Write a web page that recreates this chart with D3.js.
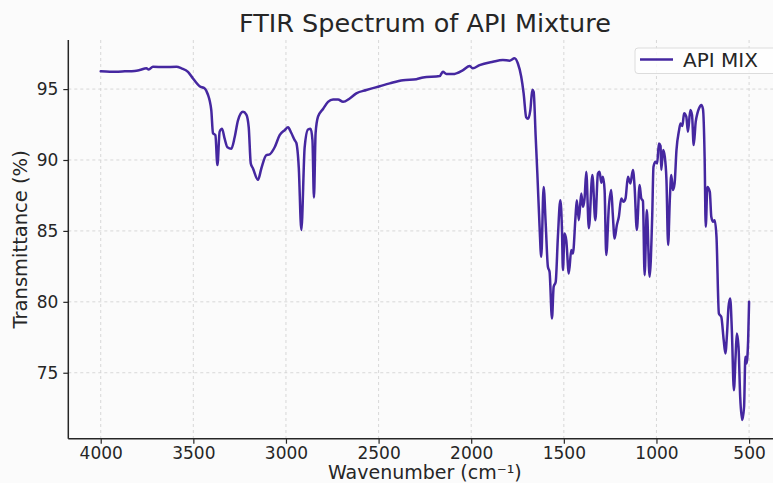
<!DOCTYPE html>
<html>
<head>
<meta charset="utf-8">
<script src="https://cdn.jsdelivr.net/npm/d3@7"></script>
<style>
  html, body { margin: 0; padding: 0; background: #fbfbfb; }
  svg { display: block; }
  text { font-family: "DejaVu Sans", sans-serif; fill: #262626; }
</style>
</head>
<body>
<svg id="chart" width="773" height="483"></svg>
<script>
// FTIR spectrum of the API mixture: wavenumber (cm-1) vs transmittance (%)
const wavenumber = [
  4000, 3951, 3870, 3817, 3790, 3753, 3741, 3718, 3655, 3591,
  3564, 3529, 3502, 3466, 3439, 3421, 3412, 3403, 3394, 3381,
  3370, 3358, 3345, 3331, 3316, 3295, 3277, 3259, 3232, 3214,
  3201, 3190, 3178, 3151, 3133, 3106, 3088, 3061, 3034, 3007,
  2989, 2971, 2953, 2944, 2931, 2917, 2899, 2881, 2867, 2857,
  2849, 2840, 2827, 2800, 2773, 2746, 2719, 2692, 2656, 2620,
  2566, 2494, 2440, 2368, 2296, 2260, 2170, 2153, 2134, 2099,
  2044, 2008, 1991, 1955, 1883, 1829, 1793, 1766, 1748, 1730,
  1717, 1703, 1694, 1681, 1670, 1663, 1652, 1643, 1631, 1622,
  1609, 1598, 1586, 1577, 1564, 1555, 1544, 1532, 1519, 1510,
  1505, 1496, 1487, 1473, 1460, 1451, 1437, 1430, 1419, 1406,
  1397, 1388, 1379, 1365, 1346, 1330, 1316, 1307, 1298, 1289,
  1280, 1271, 1257, 1244, 1236, 1226, 1214, 1203, 1190, 1178,
  1167, 1154, 1141, 1127, 1118, 1106, 1091, 1082, 1073, 1064,
  1052, 1037, 1023, 1016, 1005, 996, 987, 978, 974, 964,
  955, 946, 937, 928, 920, 911, 902, 892, 878, 870,
  860, 851, 839, 830, 817, 808, 799, 788, 779, 770,
  758, 749, 740, 734, 725, 712, 704, 694, 686, 676,
  663, 650, 637, 628, 619, 611, 602, 593, 582, 573,
  566, 557, 548, 537, 527, 520, 514, 505, 500
];
const transmittance = [
  96.25, 96.22, 96.25, 96.28, 96.34, 96.46, 96.38, 96.57, 96.55, 96.57,
  96.46, 96.22, 95.75, 95.20, 95.05, 94.60, 94.20, 93.50, 91.90, 91.75,
  89.64, 92.00, 92.20, 91.50, 90.90, 90.80, 91.60, 92.80, 93.40, 93.20,
  92.30, 89.76, 89.40, 88.60, 89.40, 90.35, 90.40, 90.90, 91.75, 92.10,
  92.30, 91.90, 91.40, 91.20, 89.50, 85.06, 90.90, 92.15, 92.20, 91.40,
  87.35, 91.90, 93.05, 93.60, 94.10, 94.27, 94.27, 94.10, 94.34, 94.70,
  94.93, 95.20, 95.40, 95.63, 95.70, 95.82, 95.92, 96.22, 96.06, 96.06,
  96.34, 96.62, 96.46, 96.69, 96.93, 97.05, 97.00, 97.17, 96.80, 95.87,
  94.70, 93.00, 92.90, 93.50, 94.95, 94.80, 91.64, 89.05, 85.30, 83.17,
  88.10, 85.53, 82.47, 82.10, 78.83, 81.06, 81.40, 84.60, 87.17, 85.06,
  82.24, 84.82, 84.35, 82.00, 83.65, 83.40, 86.00, 87.17, 85.76, 87.64,
  86.70, 87.30, 89.17, 85.18, 88.94, 85.76, 89.05, 89.17, 88.40, 88.82,
  87.88, 83.30, 86.70, 87.88, 86.23, 84.47, 85.40, 86.00, 87.29, 87.05,
  87.29, 88.82, 88.35, 89.29, 88.11, 85.06, 88.23, 87.29, 87.10, 81.88,
  86.47, 81.76, 86.00, 89.52, 89.87, 89.76, 91.17, 91.00, 89.30, 90.70,
  90.23, 88.58, 84.00, 87.17, 88.94, 87.88, 88.35, 90.70, 92.10, 92.58,
  92.40, 93.29, 93.05, 91.99, 93.52, 93.17, 91.05, 92.70, 93.29, 93.64,
  93.87, 93.60, 90.20, 85.29, 88.10, 87.76, 86.00, 85.64, 85.76, 84.60,
  79.18, 78.94, 77.30, 76.36, 77.77, 79.65, 80.24, 78.00, 73.77, 76.12,
  77.77, 76.83, 73.30, 71.66, 72.60, 76.12, 75.65, 77.30, 80.00
];
const xTicks = [4000, 3500, 3000, 2500, 2000, 1500, 1000, 500];
const yTicks = [75, 80, 85, 90, 95];
const seriesName = "API MIX";
const titleText = "FTIR Spectrum of API Mixture";
const xLabel = "Wavenumber (cm\u207B\u00B9)";
const yLabel = "Transmittance (%)";

const W = 773, H = 483;
const plot = { left: 68.3, right: 781.5, top: 40, bottom: 438.7 };
const lineColor = "#4527a0";

const svg = d3.select("#chart");
svg.append("rect").attr("width", W).attr("height", H).attr("fill", "#fbfbfb");

// wavenumber axis runs high to low, with 5% padding each side
const x = d3.scaleLinear().domain([4175, 325]).range([plot.left, plot.right]);
const y = d3.scaleLinear().domain([70.35, 98.46]).range([plot.bottom, plot.top]);

// dashed grid
const grid = svg.append("g").attr("stroke", "#d4d4d4").attr("stroke-width", 0.9)
  .attr("stroke-dasharray", "3,3");
grid.selectAll("line.v").data(xTicks).join("line").attr("class", "v")
  .attr("x1", d => x(d)).attr("x2", d => x(d))
  .attr("y1", plot.top).attr("y2", plot.bottom);
grid.selectAll("line.h").data(yTicks).join("line").attr("class", "h")
  .attr("x1", plot.left).attr("x2", plot.right)
  .attr("y1", d => y(d)).attr("y2", d => y(d));

// axes
const xAxis = d3.axisBottom(x).tickValues(xTicks).tickSize(5).tickPadding(3)
  .tickFormat(d3.format("d"));
const yAxis = d3.axisLeft(y).tickValues(yTicks).tickSize(5).tickPadding(5)
  .tickFormat(d3.format("d"));

const gx = svg.append("g").attr("transform", `translate(0,${plot.bottom})`).call(xAxis);
const gy = svg.append("g").attr("transform", `translate(${plot.left},0)`).call(yAxis);
[gx, gy].forEach(g => {
  g.select(".domain").remove();
  g.selectAll(".tick line").attr("stroke", "#262626").attr("stroke-width", 1.2);
  g.selectAll(".tick text").attr("font-size", 17).attr("fill", "#262626")
    .attr("font-family", "DejaVu Sans");
});
// spines: left and bottom only
svg.append("line").attr("x1", plot.left).attr("x2", plot.left)
  .attr("y1", plot.top).attr("y2", plot.bottom)
  .attr("stroke", "#262626").attr("stroke-width", 1.5);
svg.append("line").attr("x1", plot.left).attr("x2", W + 10)
  .attr("y1", plot.bottom).attr("y2", plot.bottom)
  .attr("stroke", "#262626").attr("stroke-width", 1.5);

// spectrum
const pts = wavenumber.map((w, i) => [w, transmittance[i]]);
const line = d3.line().x(d => x(d[0])).y(d => y(d[1])).curve(d3.curveMonotoneX);
svg.append("path").datum(pts).attr("d", line)
  .attr("fill", "none").attr("stroke", lineColor).attr("stroke-width", 2.5)
  .attr("stroke-linejoin", "round").attr("stroke-linecap", "round");

// title and axis labels
svg.append("text").attr("x", (plot.left + plot.right) / 2).attr("y", 32)
  .attr("text-anchor", "middle").attr("font-size", 25.5).text(titleText);
svg.append("text").attr("x", (plot.left + plot.right) / 2).attr("y", 479)
  .attr("text-anchor", "middle").attr("font-size", 19).text(xLabel);
svg.append("text")
  .attr("transform", `translate(27,${(plot.top + plot.bottom) / 2}) rotate(-90)`)
  .attr("text-anchor", "middle").attr("font-size", 19.5).text(yLabel);

// legend
const lg = svg.append("g");
lg.append("rect").attr("x", 635).attr("y", 48).attr("width", 150).attr("height", 25.5)
  .attr("rx", 3).attr("fill", "#ffffff").attr("fill-opacity", 0.8)
  .attr("stroke", "#dcdcdc").attr("stroke-width", 1);
lg.append("line").attr("x1", 640).attr("x2", 673).attr("y1", 59.5).attr("y2", 59.5)
  .attr("stroke", lineColor).attr("stroke-width", 2.5);
lg.append("text").attr("x", 683).attr("y", 67).attr("font-size", 20).text(seriesName);
</script>
</body>
</html>
